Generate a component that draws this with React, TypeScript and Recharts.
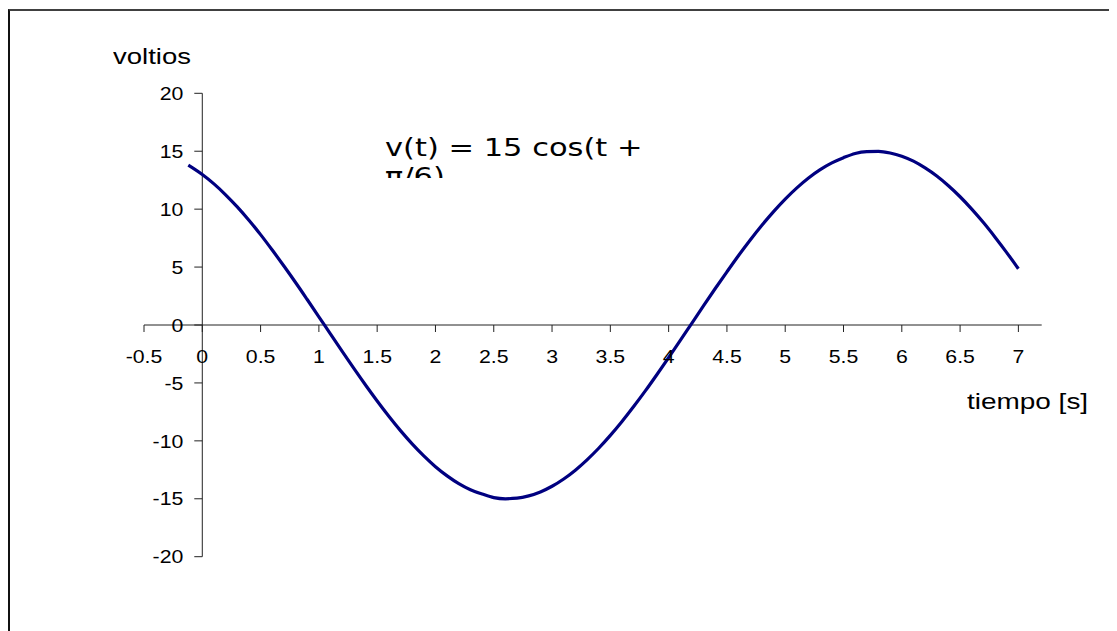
import { LineChart, Line, XAxis, YAxis, ReferenceLine, ReferenceDot } from "recharts";

// tiempo [s] and voltios
const tiempo = [
  -0.12, 0, 0.1, 0.2, 0.3, 0.4, 0.5, 0.6, 0.7, 0.8, 0.9, 1.0, 1.1, 1.2, 1.3, 1.4, 1.5, 1.6, 1.7, 1.8, 1.9,
  2.0, 2.1, 2.2, 2.3, 2.4, 2.5, 2.6, 2.7, 2.8, 2.9, 3.0, 3.1, 3.2, 3.3, 3.4, 3.5, 3.6, 3.7, 3.8, 3.9,
  4.0, 4.1, 4.2, 4.3, 4.4, 4.5, 4.6, 4.7, 4.8, 4.9, 5.0, 5.1, 5.2, 5.3, 5.4, 5.5, 5.6, 5.7, 5.8, 5.9,
  6.0, 6.1, 6.2, 6.3, 6.4, 6.5, 6.6, 6.7, 6.8, 6.9, 7.0,
];
const voltios = [
  13.8, 12.99, 12.18, 11.24, 10.19, 9.04, 7.8, 6.47, 5.09, 3.67, 2.2, 0.71, -0.79, -2.28, -3.75, -5.18,
  -6.56, -7.88, -9.12, -10.26, -11.3, -12.23, -13.02, -13.69, -14.22, -14.59, -14.9, -15.0, -14.95,
  -14.75, -14.41, -13.92, -13.29, -12.53, -11.64, -10.64, -9.53, -8.33, -7.04, -5.69, -4.27, -2.81,
  -1.33, 0.17, 1.67, 3.15, 4.59, 6.0, 7.34, 8.61, 9.79, 10.87, 11.84, 12.69, 13.41, 13.99, 14.44,
  14.81, 14.97, 14.99, 14.85, 14.57, 14.14, 13.56, 12.86, 12.02, 11.07, 10.0, 8.84, 7.58, 6.25, 4.86,
];

const xTicks = [-0.5, 0, 0.5, 1, 1.5, 2, 2.5, 3, 3.5, 4, 4.5, 5, 5.5, 6, 6.5, 7];
const yTicks = [20, 15, 10, 5, 0, -5, -10, -15, -20];

const data = tiempo.map((t, i) => ({ t, v: voltios[i] }));

const FONT = "'Liberation Sans', Arial, sans-serif";
const AXIS = "#222";

function XTick({ cx, cy, label }: { cx?: number; cy?: number; label: number }) {
  if (cx == null || cy == null) return <g />;
  return (
    <g>
      <line x1={cx} y1={cy} x2={cx} y2={cy + 7} stroke={AXIS} strokeWidth={1} />
      <text
        transform={`translate(${cx},${cy + 37.5}) scale(1.15,1)`}
        textAnchor="middle"
        fontFamily={FONT}
        fontSize={18.5}
        fill="#000"
      >
        {label}
      </text>
    </g>
  );
}

function YTick({ cx, cy, label }: { cx?: number; cy?: number; label: number }) {
  if (cx == null || cy == null) return <g />;
  return (
    <g>
      <line x1={cx - 8} y1={cy} x2={cx} y2={cy} stroke={AXIS} strokeWidth={1} />
      <text
        transform={`translate(${cx - 19},${cy + 6.7}) scale(1.15,1)`}
        textAnchor="end"
        fontFamily={FONT}
        fontSize={18.5}
        fill="#000"
      >
        {label}
      </text>
    </g>
  );
}

export default function App() {
  return (
    <div style={{ position: "relative", width: 1109, height: 623 }}>
      <style>{"html,body{overflow:hidden}"}</style>
      <div
        style={{
          position: "absolute",
          left: 0,
          top: 1,
          width: 1107,
          height: 620,
          borderTop: "2px solid #404040",
          borderLeft: "2px solid #111",
          overflow: "hidden",
          background: "#fff",
        }}
      >
        <LineChart
          width={1100}
          height={615}
          data={data}
          margin={{ top: 82.3, right: 68.3, bottom: 69.3, left: 134 }}
        >
          <XAxis type="number" dataKey="t" domain={[-0.5, 7.2]} hide allowDataOverflow />
          <YAxis type="number" domain={[-20, 20]} hide allowDataOverflow />
          <ReferenceLine y={0} stroke={AXIS} strokeWidth={1} />
          <ReferenceLine x={0} stroke={AXIS} strokeWidth={1} />
          {xTicks.map((t) => (
            <ReferenceDot
              key={`x${t}`}
              x={t}
              y={0}
              r={0}
              ifOverflow="visible"
              shape={(p: any) => <XTick cx={p.cx} cy={p.cy} label={t} />}
            />
          ))}
          {yTicks.map((v) => (
            <ReferenceDot
              key={`y${v}`}
              x={0}
              y={v}
              r={0}
              ifOverflow="visible"
              shape={(p: any) => <YTick cx={p.cx} cy={p.cy} label={v} />}
            />
          ))}
          <Line
            type="monotone"
            dataKey="v"
            stroke="#000080"
            strokeWidth={3.2}
            dot={false}
            isAnimationActive={false}
          />
        </LineChart>

        <div
          style={{
            position: "absolute",
            left: 103,
            top: 35.4,
            fontFamily: FONT,
            fontSize: 22,
            lineHeight: "22px",
            whiteSpace: "nowrap",
            transform: "scaleX(1.25)",
            transformOrigin: "left top",
          }}
        >
          voltios
        </div>
        <div
          style={{
            position: "absolute",
            left: 956.7,
            top: 379.7,
            fontFamily: FONT,
            fontSize: 22,
            lineHeight: "22px",
            whiteSpace: "nowrap",
            transform: "scaleX(1.27)",
            transformOrigin: "left top",
          }}
        >
          tiempo [s]
        </div>
        {/* the second line of the formula is clipped in the original too */}
        <div
          style={{
            position: "absolute",
            left: 375,
            top: 123.2,
            width: 400,
            height: 44,
            overflow: "hidden",
          }}
        >
          <div
            style={{
              width: 210,
              fontFamily: "'DejaVu Sans', Verdana, sans-serif",
              fontSize: 24,
              lineHeight: "29px",
              transform: "scaleX(1.27)",
              transformOrigin: "left top",
            }}
          >
            v(t) = 15 cos(t + π/6)
          </div>
        </div>
      </div>
    </div>
  );
}
